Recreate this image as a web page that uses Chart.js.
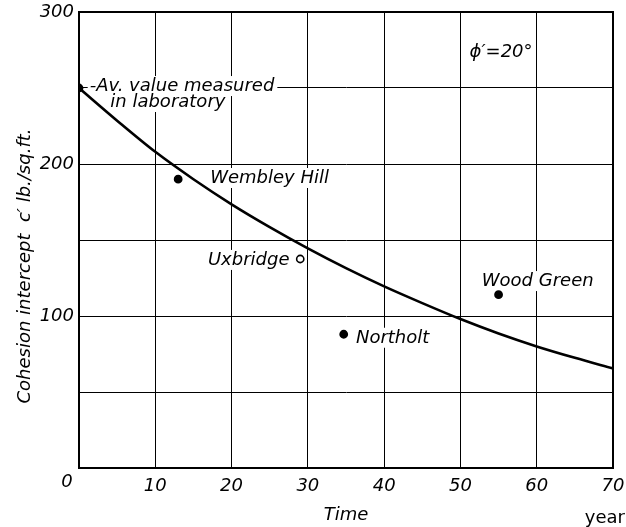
<!DOCTYPE html>
<html>
<head>
<meta charset="utf-8">
<script src="https://cdn.jsdelivr.net/npm/chart.js@4/dist/chart.umd.min.js"></script>
<style>
html,body{margin:0;padding:0;background:#fff;}
canvas{display:block;}
</style>
</head>
<body>
<canvas id="c" width="626" height="527"></canvas>
<script>
// ---- data ----
const curveYears  = [0, 5, 10, 15, 20, 25, 30, 35, 40, 45, 50, 55, 60, 65, 70];
const curveValues = [250, 228.5, 208, 190, 173.5, 158.5, 144.5, 131.5, 119.5, 108.5, 98, 88.5, 80, 72.5, 65.5];

const siteNames  = ['Av. value measured in laboratory', 'Wembley Hill', 'Uxbridge', 'Northolt', 'Wood Green'];
const siteYears  = [0, 13, 29, 34.7, 55];
const siteValues = [250, 190, 137.5, 88, 114];

const xTickLabels = [10, 20, 30, 40, 50, 60, 70];
const yTickLabels = [100, 200, 300];

// ---- text annotations (anchored in data units: left edge, baseline) ----
const FONT = 'DejaVu Sans';
const notes = [
  {text: '-Av. value measured', x: 1.4,  y: 248},
  {text: 'in laboratory',       x: 4.1,  y: 237.5},
  {text: 'Wembley Hill',        x: 17.2, y: 187.5},
  {text: 'Uxbridge',            x: 16.9, y: 133.6},
  {text: 'Northolt',            x: 36.3, y: 82.4},
  {text: 'Wood Green',          x: 52.8, y: 119.7},
  {text: '\u03D5\u2032=20\u00B0', x: 51.2, y: 270.4}
];

const notesPlugin = {
  id: 'notes',
  beforeDatasetsDraw(chart) {
    const {ctx, scales} = chart;
    ctx.save();
    ctx.font = 'italic 18px "' + FONT + '"';
    ctx.textBaseline = 'alphabetic';
    ctx.textAlign = 'left';
    notes.forEach(n => {
      const px = scales.x.getPixelForValue(n.x);
      const py = scales.y.getPixelForValue(n.y);
      const w = ctx.measureText(n.text).width;
      ctx.fillStyle = '#fff';
      ctx.fillRect(px - 2, py - 15, w + 5, 20);
      ctx.fillStyle = '#000';
      ctx.fillText(n.text, px, py);
    });
    ctx.restore();
  },
  afterDraw(chart) {
    const {ctx, chartArea: a} = chart;
    ctx.save();
    ctx.strokeStyle = '#000';
    ctx.lineWidth = 2;
    ctx.strokeRect(a.left, a.top, a.right - a.left, a.bottom - a.top);
    // origin label
    ctx.fillStyle = '#000';
    ctx.font = 'italic 18px "' + FONT + '"';
    ctx.textAlign = 'center';
    ctx.textBaseline = 'alphabetic';
    ctx.fillText('0', a.left - 12, a.bottom + 19);
    // axis titles
    ctx.fillText('Time', a.left + 267, a.bottom + 52);
    ctx.font = '18px "' + FONT + '"';
    ctx.textAlign = 'right';
    ctx.fillText('year', 625, a.bottom + 55);
    // y title
    ctx.save();
    ctx.font = 'italic 18px "' + FONT + '"';
    ctx.translate(30, (a.top + a.bottom) / 2 + 26);
    ctx.rotate(-Math.PI / 2);
    ctx.textAlign = 'center';
    ctx.fillText("Cohesion intercept  c\u2032 lb./sq.ft.", 0, 0);
    ctx.restore();
    ctx.restore();
  }
};

const tickFont = {family: FONT, size: 18, style: 'italic'};

new Chart(document.getElementById('c'), {
  type: 'scatter',
  data: {
    datasets: [
      {
        label: 'Sites',
        data: siteYears.map((x, i) => ({x: x, y: siteValues[i]})),
        pointRadius: 3.6,
        pointBorderWidth: 1.6,
        pointBorderColor: '#000',
        pointBackgroundColor: ctx => siteNames[ctx.dataIndex] === 'Uxbridge' ? '#fff' : '#000',
        showLine: false
      },
      {
        label: 'Curve',
        data: curveYears.map((x, i) => ({x: x, y: curveValues[i]})),
        showLine: true,
        borderColor: '#000',
        borderWidth: 2.6,
        pointRadius: 0,
        cubicInterpolationMode: 'monotone',
        fill: false
      }
    ]
  },
  options: {
    responsive: false,
    animation: false,
    devicePixelRatio: 1,
    layout: {padding: {top: 12, right: 13, left: 0, bottom: 0}},
    plugins: {legend: {display: false}, tooltip: {enabled: false}},
    scales: {
      x: {
        type: 'linear', min: 0, max: 70,
        afterFit: s => { s.height = 59; s.paddingLeft = 0; s.paddingRight = 0; },
        ticks: {
          stepSize: 10, color: '#000', font: tickFont, padding: 8, maxRotation: 0,
          callback: v => xTickLabels.includes(v) ? String(v) : ''
        },
        grid: {color: '#000', lineWidth: 1, drawTicks: false},
        border: {display: true, color: '#000', width: 2}
      },
      y: {
        type: 'linear', min: 0, max: 300,
        afterFit: s => { s.width = 79; s.paddingTop = 0; s.paddingBottom = 0; },
        ticks: {
          stepSize: 50, color: '#000', font: tickFont, padding: 5,
          callback: v => yTickLabels.includes(v) ? String(v) : ''
        },
        grid: {color: '#000', lineWidth: 1, drawTicks: false},
        border: {display: true, color: '#000', width: 2}
      }
    }
  },
  plugins: [notesPlugin]
});
</script>
</body>
</html>
